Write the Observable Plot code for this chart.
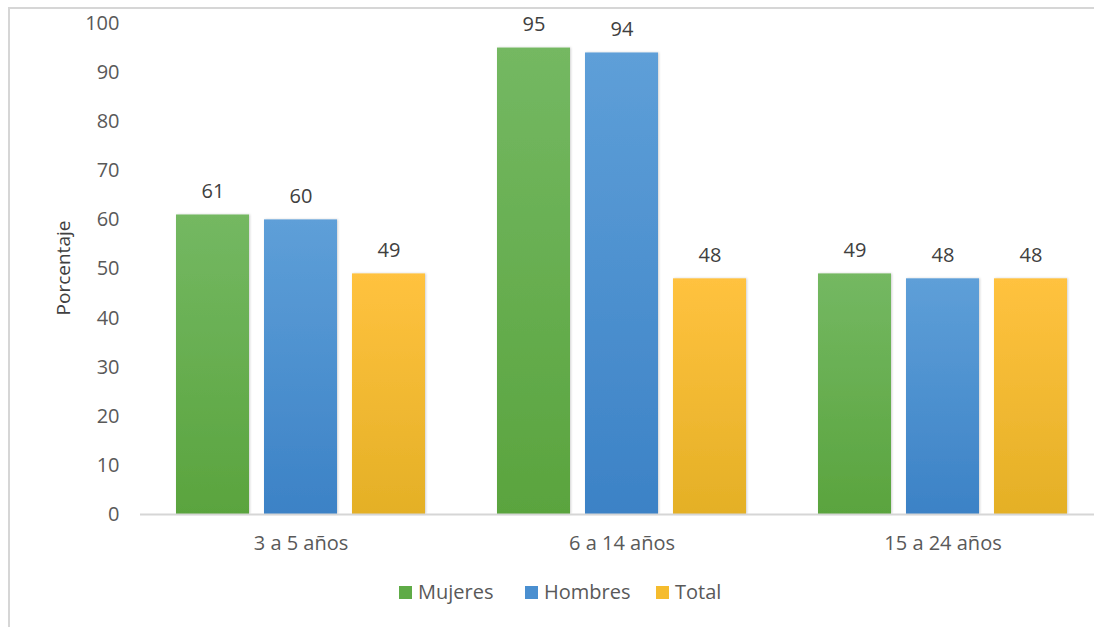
<!DOCTYPE html>
<html>
<head>
<meta charset="utf-8">
<script src="https://cdn.jsdelivr.net/npm/d3@7"></script>
<script src="https://cdn.jsdelivr.net/npm/@observablehq/plot@0.6"></script>
<style>
  html, body { margin: 0; padding: 0; background: #fff; overflow: hidden; width: 1094px; height: 627px; }
  body { position: relative; font-family: "Open Sans", sans-serif; }
  #frame { position: absolute; left: 8px; top: 7px; width: 1200px; height: 700px; border: 2px solid #d6d6d6; box-sizing: border-box; }
  #chart { position: absolute; left: 0; top: 0; width: 1104px; }
  #chart svg { max-width: none !important; }
  #legend { position: absolute; top: 578px; left: 0; width: 1094px; height: 28px; font-size: 20px; color: #595959; }
  .item { position: absolute; top: 0; line-height: 28px; white-space: nowrap; }
  .sw { display: inline-block; width: 13px; height: 13px; margin-right: 6px; vertical-align: 0px; }
  #ylabel { position: absolute; left: 63px; top: 268px; transform: translate(-50%, -50%) rotate(-90deg); font-size: 19px; color: #404040; white-space: nowrap; }
</style>
</head>
<body>
<div id="frame"></div>
<div id="chart"></div>
<div id="ylabel">Porcentaje</div>
<div id="legend"></div>
<script>
const groups = ["3 a 5 años", "6 a 14 años", "15 a 24 años"];
const series = ["Mujeres", "Hombres", "Total"];
const mujeres = [61, 95, 49];
const hombres = [60, 94, 48];
const total = [49, 48, 48];
const yTicks = [0, 10, 20, 30, 40, 50, 60, 70, 80, 90, 100];
const colorsTop = ["#74b862", "#5e9fd8", "#ffc23f"];
const colorsBottom = ["#5aa43e", "#3c82c6", "#e4b026"];
const legendColors = ["#5fab47", "#4a8fd0", "#f5bc2e"];

const valuesBySeries = [mujeres, hombres, total];
const data = [];
groups.forEach((g, i) => series.forEach((s, j) => data.push({group: g, series: s, value: valuesBySeries[j][i]})));

const gradIds = series.map((s, j) => "grad" + j);

const plot = Plot.plot({
  width: 1104,
  height: 560,
  marginLeft: 139,
  marginRight: 0,
  marginTop: 23,
  marginBottom: 46,
  style: {fontFamily: "Open Sans, sans-serif", fontSize: "20px", color: "#595959", background: "transparent", overflow: "visible", maxWidth: "none"},
  fx: {domain: groups, padding: 0, label: null},
  x: {domain: series, paddingInner: 0.175, paddingOuter: 0.404, axis: null},
  y: {domain: [0, 100], axis: null},
  color: {domain: series, range: gradIds.map(id => `url(#${id})`)},
  marks: [
    Plot.axisY({ticks: yTicks, tickSize: 0, tickPadding: 21, label: null, fill: "#595959", fontSize: 20}),
    Plot.axisFx({anchor: "bottom", tickSize: 0, tickPadding: 21, label: null, fill: "#595959", fontSize: 20}),
    Plot.barY(data, {fx: "group", x: "series", y: "value", fill: "series"}),
    Plot.ruleY([0], {stroke: "#d6d6d6", strokeWidth: 2}),
    Plot.text(data, {fx: "group", x: "series", y: "value", text: d => String(d.value), dy: -23, fill: "#404040", fontSize: 20})
  ]
});

const svg = d3.select(plot);
const defs = svg.insert("defs", ":first-child");
series.forEach((s, j) => {
  const lg = defs.append("linearGradient").attr("id", gradIds[j]).attr("x1", 0).attr("y1", 0).attr("x2", 0).attr("y2", 1);
  lg.append("stop").attr("offset", "0%").attr("stop-color", colorsTop[j]);
  lg.append("stop").attr("offset", "100%").attr("stop-color", colorsBottom[j]);
});
const filt = defs.append("filter").attr("id", "shadow").attr("x", "-10%").attr("y", "-10%").attr("width", "130%").attr("height", "130%");
filt.append("feDropShadow").attr("dx", 1).attr("dy", 0).attr("stdDeviation", 1.2).attr("flood-color", "#000").attr("flood-opacity", 0.18);
svg.selectAll("rect").filter(function() { return (this.getAttribute("fill") || "").startsWith("url(#grad"); }).attr("filter", "url(#shadow)");

document.getElementById("chart").appendChild(plot);

const legend = document.getElementById("legend");
const legendX = [399, 525, 656];
series.forEach((s, j) => {
  const it = document.createElement("div");
  it.className = "item";
  it.style.left = legendX[j] + "px";
  it.innerHTML = `<span class="sw" style="background:${legendColors[j]}"></span>${s}`;
  legend.appendChild(it);
});
</script>
</body>
</html>
